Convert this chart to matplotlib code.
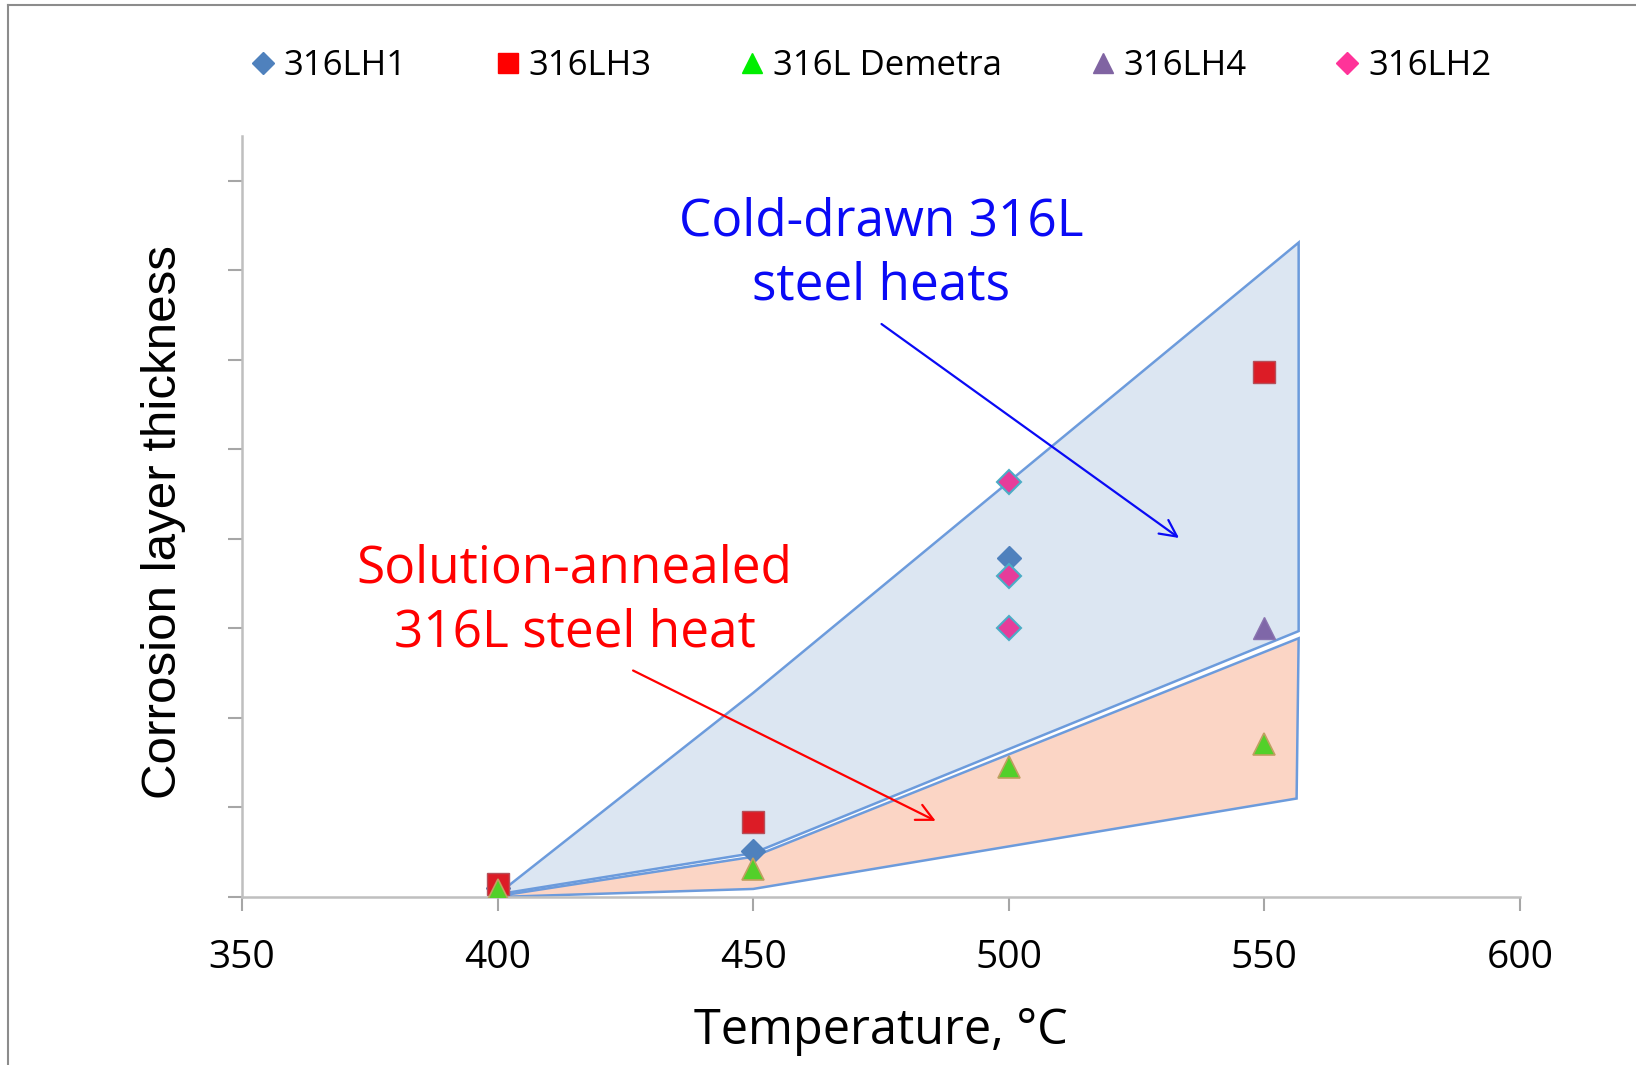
import matplotlib
matplotlib.use("Agg")
import matplotlib.pyplot as plt
from matplotlib.lines import Line2D
from matplotlib.patches import Polygon

plt.rcParams['font.family'] = ['Open Sans', 'DejaVu Sans']

# measured corrosion layer thickness (arbitrary units) vs. exposure temperature
lh1_t = [400, 450, 500]
lh1_y = [0.10, 0.51, 3.79]
lh3_t = [400, 450, 550]
lh3_y = [0.14, 0.84, 5.86]
demetra_t = [400, 450, 500, 550]
demetra_y = [0.08, 0.31, 1.45, 1.71]
lh4_t = [550]
lh4_y = [3.00]
lh2_t = [500, 500, 500]
lh2_y = [4.64, 3.59, 3.01]

# envelope of the cold-drawn heats
cold_t = [400, 450, 556.7, 556.7, 450, 400]
cold_y = [0.03, 2.28, 7.31, 2.97, 0.49, 0.03]
# envelope of the solution-annealed heat
sa_t = [400, 450, 556.7, 556.3, 450, 400]
sa_y = [0.01, 0.45, 2.89, 1.10, 0.09, 0.00]

fig = plt.figure(figsize=(16.36, 10.65), dpi=100)
ax = fig.add_axes([242/1636, 1-897/1065, (1520-242)/1636, (897-136)/1065])

edge = '#6C9BDC'
ax.add_patch(Polygon(list(zip(cold_t, cold_y)), closed=True, facecolor='#DCE6F2',
                     edgecolor=edge, lw=1.8, zorder=1))
ax.add_patch(Polygon(list(zip(sa_t, sa_y)), closed=True, facecolor='#FBD5C5',
                     edgecolor=edge, lw=1.8, zorder=2))

ax.plot(lh1_t, lh1_y, 'D', ms=12.5, color='#4F81BD', mec='#4F81BD', zorder=3)
ax.plot(lh3_t, lh3_y, 's', ms=15.5, color='#DC1C26', mec='#B5505A', mew=1, zorder=4)
ax.plot(demetra_t, demetra_y, '^', ms=16, color='#52D02A', mec='#C0A060', mew=1.2, zorder=5)
ax.plot(lh4_t, lh4_y, '^', ms=16, color='#7F67A8', mec='#8A74B0', mew=1, zorder=5)
ax.plot(lh2_t, lh2_y, 'D', ms=12, color='#E63C9A', mec='#4BACC6', mew=1.5, zorder=6)

ax.set_xlim(350, 600)
ax.set_ylim(0, 8.5)
ax.set_xticks([350, 400, 450, 500, 550, 600])
ax.set_yticks(range(0, 9))
ax.set_yticklabels([])
ax.tick_params(axis='both', direction='out', length=10, width=1.5, color='#A6A6A6',
               labelsize=28, pad=20)
for s in ['top', 'right']:
    ax.spines[s].set_visible(False)
for s in ['left', 'bottom']:
    ax.spines[s].set_color('#BFBFBF')
    ax.spines[s].set_linewidth(1.8)

ax.text(475.0, 7.18, 'Cold-drawn 316L\nsteel heats', color='#0A0AF5', fontsize=37,
        ha='center', va='center', linespacing=1.34, zorder=7)
ax.annotate('', xy=(533.3, 4.01), xytext=(475.1, 6.40),
            arrowprops=dict(arrowstyle='->', color='#0A0AF5', lw=1.6,
                            mutation_scale=30, shrinkA=0, shrinkB=0), zorder=7)
ax.text(415.1, 3.31, 'Solution-annealed\n316L steel heat', color='#FF0000', fontsize=37,
        ha='center', va='center', linespacing=1.34, zorder=7)
ax.annotate('', xy=(485.7, 0.85), xytext=(426.5, 2.53),
            arrowprops=dict(arrowstyle='->', color='#FF0000', lw=1.6,
                            mutation_scale=30, shrinkA=0, shrinkB=0), zorder=7)

fig.text(881/1636, 1-1044/1065, 'Temperature, °C', fontsize=35, ha='center', va='baseline')
fig.text(164/1636, 1-522/1065, 'Corrosion layer thickness', fontsize=35.5, rotation=90,
         ha='center', va='center', family=['Liberation Sans', 'DejaVu Sans'])

handles = [
    Line2D([], [], ls='none', marker='D', ms=11, color='#4F81BD'),
    Line2D([], [], ls='none', marker='s', ms=15, color='#FF0000'),
    Line2D([], [], ls='none', marker='^', ms=15, color='#00EE00'),
    Line2D([], [], ls='none', marker='^', ms=15, color='#8064A2'),
    Line2D([], [], ls='none', marker='D', ms=11, color='#FF3399'),
]
labels = ['316LH1', '316LH3', '316L Demetra', '316LH4', '316LH2']
fig.legend(handles, labels, loc='center', bbox_to_anchor=(872/1636, 1-66/1065), ncol=5,
           frameon=False, fontsize=25, handlelength=0.6, handletextpad=0.3,
           columnspacing=2.6, borderpad=0)

# outer chart frame
fig.add_artist(Line2D([8/1636, 8/1636], [0, 1-5/1065], color='#8C8C8C', lw=1.5))
fig.add_artist(Line2D([8/1636, 1], [1-5/1065, 1-5/1065], color='#8C8C8C', lw=1.5))

fig.savefig('out.png', dpi=100)
